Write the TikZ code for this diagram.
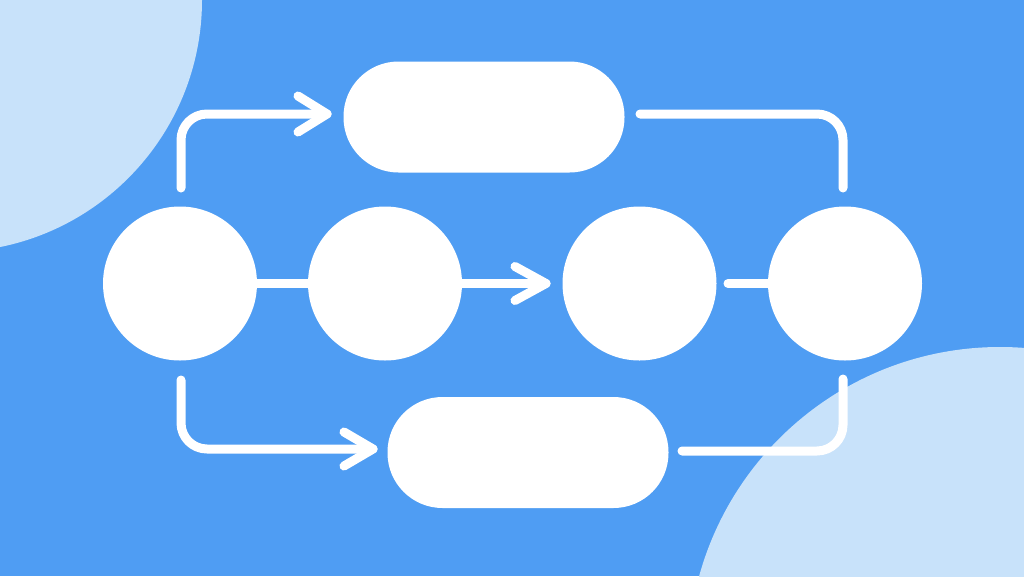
\documentclass[tikz,border=0pt]{standalone}
\usetikzlibrary{calc}
\definecolor{bgblue}{RGB}{79,157,243}
\definecolor{lightblue}{RGB}{200,226,250}
\tikzset{
  stepnode/.style={circle, fill=white, draw=none, minimum size=154pt, inner sep=0pt},
  pillnode/.style={rectangle, fill=white, draw=none, rounded corners=55pt, minimum width=281pt, minimum height=111pt, inner sep=0pt},
  conn/.style={draw=white, line width=9pt, line cap=round, line join=round},
  elbowconn/.style={conn, rounded corners=26pt},
}
\begin{document}
\begin{tikzpicture}[x=1pt,y=-1pt]
\fill[bgblue] (0,0) rectangle (1024,576);
\useasboundingbox (0,0) rectangle (1024,576);
\begin{scope}
  \clip (0,0) rectangle (1024,576);
  \fill[lightblue] (-50,0) circle[radius=252pt];
  \fill[lightblue] (1000,659) circle[radius=312pt];
\end{scope}

% nodes
\node[stepnode] (A) at (180,283.5) {};
\node[stepnode] (B) at (385,283.5) {};
\node[stepnode] (C) at (639.5,283.5) {};
\node[stepnode] (D) at (845,283.5) {};
\node[pillnode] (T) at (484,117) {};
\node[pillnode] (L) at (528,452.5) {};

% free ends
\coordinate (a1) at (181,188);
\coordinate (t1) at (327,114);
\coordinate (t2) at (546,283.5);
\coordinate (c1) at (728,283.5);
\coordinate (r1) at (640,114);
\coordinate (r2) at (843,188);
\coordinate (a2) at (181,380);
\coordinate (t3) at (373,449);
\coordinate (l1) at (682,451);
\coordinate (l2) at (843,379);

% connectors
\draw[conn] (A.east) -- (B.west);
\draw[conn] (B.east) -- (t2);
\draw[conn] ($(t2)+(-31,-17)$) -- (t2) -- ($(t2)+(-31,17)$);
\draw[conn] (c1) -- (D.west);

\draw[elbowconn] (a1) |- (t1);
\draw[conn] ($(t1)+(-29,-18)$) -- (t1) -- ($(t1)+(-29,18)$);

\draw[elbowconn] (r1) -| (r2);

\draw[elbowconn] (a2) |- (t3);
\draw[conn] ($(t3)+(-29,-17)$) -- (t3) -- ($(t3)+(-29,17)$);

\draw[elbowconn] (l1) -| (l2);
\end{tikzpicture}
\end{document}
